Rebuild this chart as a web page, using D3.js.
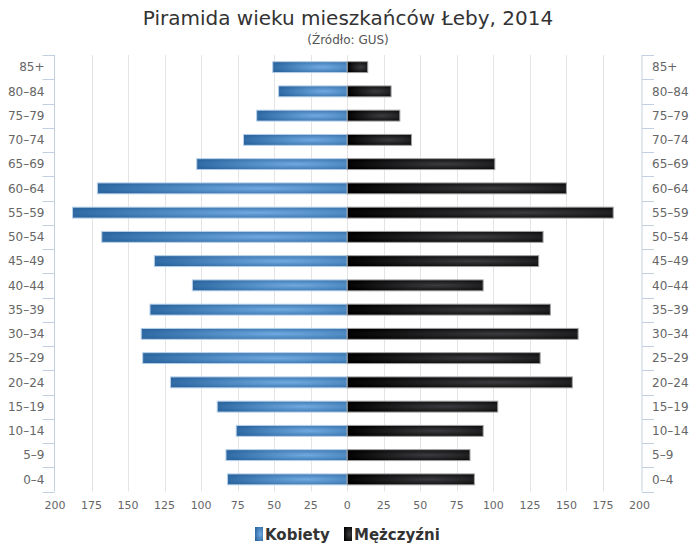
<!DOCTYPE html>
<html>
<head>
<meta charset="utf-8">
<script src="https://cdn.jsdelivr.net/npm/d3@7/dist/d3.min.js"></script>
<style>
  body { margin: 0; background: #fff; }
  text { font-family: "DejaVu Sans", Verdana, sans-serif; }
</style>
</head>
<body>
<script>
const width = 696;
const height = 557;

// age groups, top of the pyramid first
const ageGroups = ["85+", "80-84", "75-79", "70-74", "65-69", "60-64", "55-59", "50-54",
  "45-49", "40-44", "35-39", "30-34", "25-29", "20-24", "15-19", "10-14", "5-9", "0-4"];
const women = [51, 47, 62, 71, 103, 171, 188, 168, 132, 106, 135, 141, 140, 121, 89, 76, 83, 82];
const men = [14, 30, 36, 44, 101, 150, 182, 134, 131, 93, 139, 158, 132, 154, 103, 93, 84, 87];
const valueTicks = [-200, -175, -150, -125, -100, -75, -50, -25, 0, 25, 50, 75, 100, 125, 150, 175, 200];
const seriesNames = ["Kobiety", "Mężczyźni"];

const plot = { left: 55, right: 639.5, top: 55, bottom: 491.5 };

const svg = d3.select("body").append("svg")
  .attr("width", width)
  .attr("height", height);

const defs = svg.append("defs");
function radial(id, light, dark) {
  const g = defs.append("radialGradient").attr("id", id)
    .attr("cx", 0.66).attr("cy", 0.5).attr("r", 0.7);
  g.append("stop").attr("offset", 0).attr("stop-color", light);
  g.append("stop").attr("offset", 1).attr("stop-color", dark);
}
radial("gradBlue", "#70aae0", "#2c67a1");
radial("gradBlack", "#3c3c40", "#000000");

const x = d3.scaleLinear().domain([-200, 200]).range([plot.left, plot.right]);
const y = d3.scaleBand().domain(ageGroups).range([plot.top, plot.bottom])
  .paddingInner(0.55).paddingOuter(0.275);
const step = y.step();

// title
svg.append("text")
  .attr("x", width / 2).attr("y", 25)
  .attr("text-anchor", "middle")
  .attr("font-size", 20).attr("fill", "#333")
  .text("Piramida wieku mieszkańców Łeby, 2014");
svg.append("text")
  .attr("x", width / 2).attr("y", 44)
  .attr("text-anchor", "middle")
  .attr("font-size", 12).attr("fill", "#555")
  .text("(Źródło: GUS)");

// vertical grid lines
svg.append("g").selectAll("line")
  .data(valueTicks.slice(1, -1))
  .join("line")
  .attr("x1", d => Math.round(x(d)) + 0.5).attr("x2", d => Math.round(x(d)) + 0.5)
  .attr("y1", plot.top).attr("y2", plot.bottom)
  .attr("stroke", "#e4e4e4");

// category axes (left and right), ticks between categories
const edges = ageGroups.map(d => y(d) - step * y.paddingInner() / 2)
  .concat([plot.bottom]);
function categoryAxis(xLine, dir) {
  const g = svg.append("g");
  g.append("line")
    .attr("x1", xLine).attr("x2", xLine)
    .attr("y1", plot.top).attr("y2", plot.bottom)
    .attr("stroke", "#c0d0e0");
  g.selectAll("line.tick").data(edges).join("line")
    .attr("class", "tick")
    .attr("x1", xLine).attr("x2", xLine + dir * 12)
    .attr("y1", d => Math.round(d) + 0.5).attr("y2", d => Math.round(d) + 0.5)
    .attr("stroke", "#c0d0e0");
  g.selectAll("text").data(ageGroups).join("text")
    .attr("x", xLine + dir * 10)
    .attr("y", d => y(d) + y.bandwidth() / 2)
    .attr("dy", "0.35em")
    .attr("text-anchor", dir < 0 ? "end" : "start")
    .attr("font-size", 12).attr("fill", "#666")
    .text(d => d.replace("-", "–"));
}
categoryAxis(plot.left - 0.5, -1);
categoryAxis(plot.right + 2.5, 1);

// value axis labels
svg.append("g").selectAll("text")
  .data(valueTicks)
  .join("text")
  .attr("x", d => x(d))
  .attr("y", 509)
  .attr("text-anchor", "middle")
  .attr("font-size", 11).attr("fill", "#666")
  .text(d => Math.abs(d));

// bars
const bars = svg.append("g");
bars.selectAll("rect.w").data(ageGroups).join("rect")
  .attr("class", "w")
  .attr("x", (d, i) => x(-women[i]))
  .attr("width", (d, i) => x(0) - x(-women[i]))
  .attr("y", d => y(d))
  .attr("height", y.bandwidth())
  .attr("fill", "url(#gradBlue)")
  .attr("stroke", "#b8d0ea").attr("stroke-width", 1);
bars.selectAll("rect.m").data(ageGroups).join("rect")
  .attr("class", "m")
  .attr("x", x(0))
  .attr("width", (d, i) => x(men[i]) - x(0))
  .attr("y", d => y(d))
  .attr("height", y.bandwidth())
  .attr("fill", "url(#gradBlack)")
  .attr("stroke", "#a0a0a0").attr("stroke-width", 1);

// legend
const legendItems = [
  { name: seriesNames[0], fill: "url(#gradBlue)", x: 255 },
  { name: seriesNames[1], fill: "url(#gradBlack)", x: 344 }
];
const legend = svg.append("g").selectAll("g").data(legendItems).join("g")
  .attr("transform", d => `translate(${d.x},527)`);
legend.append("rect")
  .attr("width", 8).attr("height", 14)
  .attr("fill", d => d.fill);
legend.append("text")
  .attr("x", 10).attr("y", 13)
  .attr("font-size", 15).attr("font-weight", "bold").attr("fill", "#333")
  .text(d => d.name);
</script>
</body>
</html>
